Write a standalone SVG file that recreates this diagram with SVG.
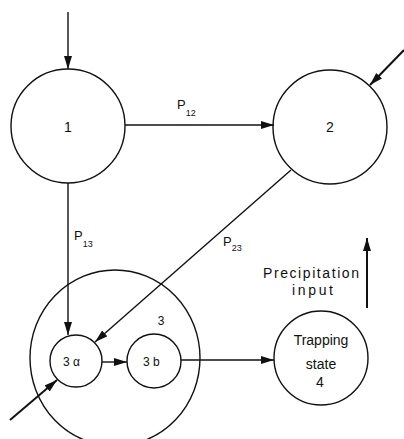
<svg xmlns="http://www.w3.org/2000/svg" width="404" height="439" viewBox="0 0 404 439">
<style>
.node{fill:none;stroke:#111;stroke-width:1.4}
.edge{fill:none;stroke:#111;stroke-width:1.4}
.thick{stroke-width:2}
text{font-family:"Liberation Sans",Arial,sans-serif;fill:#111}
.lbl{font-size:14px;text-anchor:middle}
.p{font-size:13px}
.sub{font-size:9px}
</style>
<defs>
<marker id="ah" markerUnits="userSpaceOnUse" markerWidth="14" markerHeight="10" refX="13" refY="4" orient="auto">
<path d="M0,0 L13,4 L0,8 Z" fill="#111"/>
</marker>
</defs>
<rect width="404" height="439" fill="#fff"/>
<g id="connectors">
<line class="edge" x1="68" y1="12" x2="68" y2="69" marker-end="url(#ah)"/>
<line class="edge" x1="125" y1="125" x2="274" y2="125" marker-end="url(#ah)"/>
<line class="edge thick" x1="404" y1="50" x2="370" y2="85" marker-end="url(#ah)"/>
<line class="edge" x1="68" y1="183" x2="68" y2="335" marker-end="url(#ah)"/>
<line class="edge" x1="291" y1="170" x2="95" y2="342" marker-end="url(#ah)"/>
<line class="edge thick" x1="10" y1="420" x2="57" y2="380" marker-end="url(#ah)"/>
<line class="edge" x1="102" y1="362" x2="127" y2="362" marker-end="url(#ah)"/>
<line class="edge" x1="181" y1="360" x2="274" y2="360" marker-end="url(#ah)"/>
<line class="edge thick" x1="367" y1="308" x2="367" y2="238" marker-end="url(#ah)"/>
</g>
<g id="node1">
<circle class="node" cx="68" cy="126" r="57"/>
<text class="lbl" x="68" y="132">1</text>
</g>
<g id="node2">
<circle class="node" cx="330" cy="127" r="57"/>
<text class="lbl" x="330" y="132" font-size="15">2</text>
</g>
<g id="node3">
<ellipse class="node" cx="115" cy="358" rx="85" ry="88"/>
<text x="161" y="325" font-size="12" text-anchor="middle">3</text>
</g>
<g id="node3a">
<circle class="node" cx="76" cy="361" r="26"/>
<text x="63" y="366" font-size="12">3 α</text>
</g>
<g id="node3b">
<circle class="node" cx="154" cy="361" r="27"/>
<text x="143" y="366" font-size="12">3 b</text>
</g>
<g id="node4">
<circle class="node" cx="321" cy="358" r="47"/>
<text class="lbl" x="321" y="345" font-size="14">Trapping</text>
<text class="lbl" x="321" y="369" font-size="14">state</text>
<text class="lbl" x="320" y="387" font-size="14">4</text>
</g>
<g id="labels">
<text class="p" x="177" y="109">P<tspan class="sub" dy="7">12</tspan></text>
<text class="p" x="74" y="240">P<tspan class="sub" dy="7">13</tspan></text>
<text class="p" x="223" y="246">P<tspan class="sub" dy="5">23</tspan></text>
<text x="263" y="278" font-size="14" textLength="96" lengthAdjust="spacing">Precipitation</text>
<text x="292" y="295" font-size="14" textLength="41" lengthAdjust="spacing">input</text>
</g>
</svg>
